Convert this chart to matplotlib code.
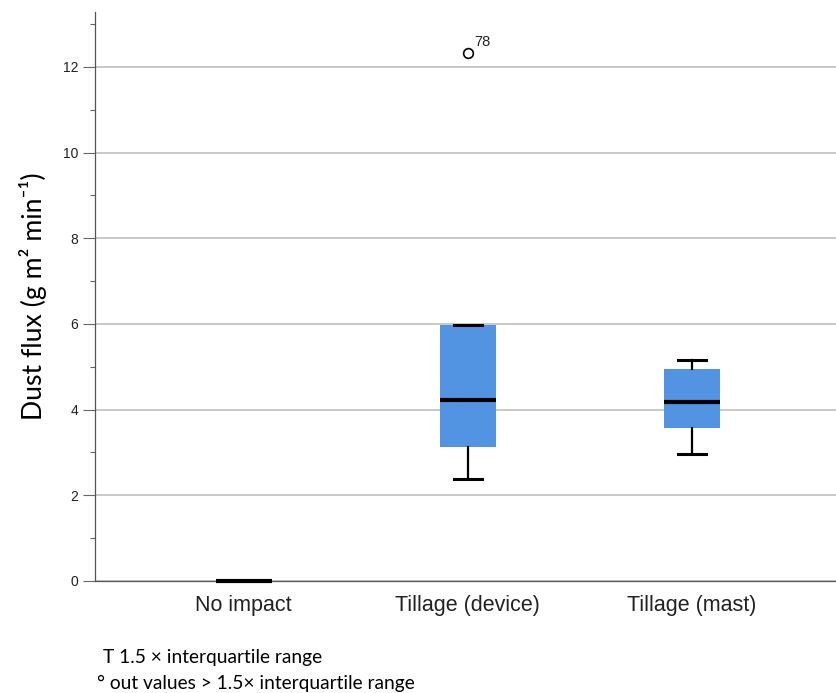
import matplotlib
matplotlib.use('Agg')
import matplotlib.pyplot as plt
from matplotlib.ticker import MultipleLocator

plt.rcParams['font.family'] = ['Liberation Sans', 'DejaVu Sans']

categories = ['No impact', 'Tillage (device)', 'Tillage (mast)']
q1 = [0.0, 3.13, 3.57]
median = [0.0, 4.22, 4.18]
q3 = [0.0, 5.98, 4.95]
whisker_low = [0.0, 2.38, 2.97]
whisker_high = [0.0, 5.98, 5.16]
outliers = [[], [12.33], []]
outlier_ids = [[], ['78'], []]
yticks = [0, 2, 4, 6, 8, 10, 12]

fig = plt.figure(figsize=(8.36, 6.93), dpi=100)
ax = fig.add_axes([95/836, (693-581)/693, 1-95/836, (581-12)/693])

positions = [1, 2, 3]
stats = []
for i in range(len(categories)):
    stats.append(dict(med=median[i], q1=q1[i], q3=q3[i],
                      whislo=whisker_low[i], whishi=whisker_high[i],
                      fliers=outliers[i], label=categories[i]))

box_color = '#5294e2'
bp = ax.bxp(stats, positions=positions, widths=0.25, patch_artist=True, showfliers=True,
            boxprops=dict(facecolor=box_color, edgecolor=box_color, linewidth=0),
            medianprops=dict(color='black', linewidth=3, solid_capstyle='butt'),
            whiskerprops=dict(color='black', linewidth=1.6),
            capprops=dict(color='black', linewidth=2.2),
            flierprops=dict(marker='o', markerfacecolor='white', markeredgecolor='black',
                            markersize=7, markeredgewidth=1.2),
            capwidths=0.125)
for ln in bp['medians']:
    ln.set_clip_on(False)
    ln.set_zorder(5)

for i, (vals, ids) in enumerate(zip(outliers, outlier_ids)):
    for v, lab in zip(vals, ids):
        ax.annotate(lab, xy=(positions[i], v), xytext=(4.5, 5.0),
                    textcoords='offset points', fontsize=10.5, color='#222222',
                    ha='left', va='baseline')

ax.set_xlim(0.337, 3.644)
ax.set_ylim(0, 13.28)
ax.set_yticks(yticks)
ax.yaxis.set_minor_locator(MultipleLocator(1))
ax.yaxis.grid(True, which='major', color='#c8c8c8', linewidth=1.4)
ax.set_axisbelow(True)

for s in ['top', 'right']:
    ax.spines[s].set_visible(False)
ax.spines['left'].set_color('#555555')
ax.spines['bottom'].set_color('#555555')
ax.spines['left'].set_linewidth(0.9)
ax.spines['bottom'].set_linewidth(0.9)

ax.tick_params(axis='y', which='major', length=8.6, width=0.8, color='#666666',
               labelsize=10, pad=3.5, labelcolor='#222222')
ax.tick_params(axis='y', which='minor', length=3.6, width=0.8, color='#666666')
ax.set_xticks(positions)
ax.set_xticklabels(categories)
ax.tick_params(axis='x', length=0, labelsize=15.5, pad=10, labelcolor='#222222')

fig.text(33/836, 1-296/693, 'Dust flux (g m² min⁻¹)', rotation=90, ha='center', va='center',
         family=['Lato', 'DejaVu Sans'], fontsize=19.2, color='black')

fig.text(103/836, 1-657/693, 'T 1.5 × interquartile range', ha='left', va='center',
         family=['Lato', 'DejaVu Sans'], fontsize=13.8, color='black')
fig.text(97/836, 1-683/693, '° out values > 1.5× interquartile range', ha='left', va='center',
         family=['Lato', 'DejaVu Sans'], fontsize=13.8, color='black')

fig.savefig('out.png', dpi=100)
